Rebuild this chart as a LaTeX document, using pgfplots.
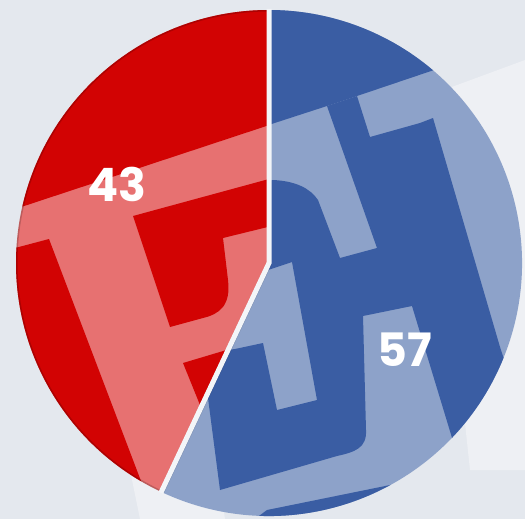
\documentclass[border=0pt]{standalone}
\usepackage{pgfplots}
\pgfplotsset{compat=1.18}
\usepackage{pgfplotstable}
\usepackage{fontspec}
\setmainfont{Poppins}
\definecolor{bgc}{HTML}{E4E8EE}
\definecolor{bgl}{HTML}{EEF0F4}
\definecolor{redD}{HTML}{D20303}
\definecolor{redL}{HTML}{E77171}
\definecolor{bluD}{HTML}{3A5DA3}
\definecolor{bluL}{HTML}{8DA2C9}
\definecolor{sep}{HTML}{F3F5F8}
\pgfplotstableread{
party share
A 43
B 57
}\piedata
\pgfplotstablegetelem{0}{share}\of\piedata \let\sa\pgfplotsretval
\pgfplotstablegetelem{1}{share}\of\piedata \let\sb\pgfplotsretval
\pgfmathsetmacro{\angB}{90+360*\sa/(\sa+\sb)}
\pgfmathsetmacro{\angE}{90+360}
\tikzset{
 redwedge/.style={insert path={(axis cs:269,263) -- ++(90:253pt) arc[start angle=90,end angle=\angB,radius=253pt] -- cycle}},
 bluewedge/.style={insert path={(axis cs:269,263) -- ++(\angB:253pt) arc[start angle=\angB,end angle=\angE,radius=253pt] -- cycle}},
}
\begin{document}
\begin{tikzpicture}
\begin{axis}[scale only axis, width=525pt, height=519pt,
  xmin=0, xmax=525, ymin=0, ymax=519, y dir=reverse, hide axis, clip=true]
\fill[bgc] (axis cs:0,0) rectangle (axis cs:525,519);
% faint watermark shapes on the background
\fill[bgl] (axis cs:430,95) -- (axis cs:525,60) -- (axis cs:525,470) -- (axis cs:470,470) -- cycle;
\fill[bgl] (axis cs:130,470) -- (axis cs:215,455) -- (axis cs:225,519) -- (axis cs:140,519) -- cycle;
% red slice
\fill[redL, redwedge];
\begin{scope}
\clip[redwedge];
\fill[redD] (axis cs:0,0) -- (axis cs:330,0) -- (axis cs:330,105) -- (axis cs:0,214) -- cycle;
\fill[redD] (axis cs:0,252) -- (axis cs:49,239) -- (axis cs:152,510) -- (axis cs:0,530) -- cycle;
\fill[redD] (axis cs:133,216) -- (axis cs:280,176) -- (axis cs:280,224) -- (axis cs:223,238) -- (axis cs:228,280) .. controls (axis cs:231,305) and (axis cs:220,314) .. (axis cs:203,318) -- (axis cs:170,327) -- cycle;
\fill[redD] (axis cs:183,363) -- (axis cs:260,340) -- (axis cs:260,420) -- (axis cs:200,405) -- cycle;
\draw[black, opacity=0.18, line width=3pt] (axis cs:269,263) ++(90:253pt) arc[start angle=90,end angle=\angB,radius=253pt];
\end{scope}
% blue slice
\fill[bluL, bluewedge];
\begin{scope}
\clip[bluewedge];
\fill[bluD] (axis cs:250,0) -- (axis cs:600,0) -- (axis cs:600,14) -- (axis cs:357,96) -- (axis cs:327,106) -- (axis cs:250,131) -- cycle;
\fill[bluD] (axis cs:327,106) -- (axis cs:357,96) -- (axis cs:370,137) -- (axis cs:420,123) -- (axis cs:433,118) -- (axis cs:500,347) -- (axis cs:560,530) -- (axis cs:480,530) -- (axis cs:412,306) -- (axis cs:363,316) -- (axis cs:366,430) .. controls (axis cs:367,448) and (axis cs:355,452) .. (axis cs:337,456) -- (axis cs:220,490) -- (axis cs:205,375) .. controls (axis cs:203,358) and (axis cs:215,352) .. (axis cs:235,349) -- (axis cs:263,343) -- (axis cs:277,410) -- (axis cs:317,400) -- (axis cs:292,262) -- (axis cs:262,272) -- (axis cs:262,182) -- (axis cs:273,180) .. controls (axis cs:295,181) and (axis cs:310,188) .. (axis cs:318,200) -- (axis cs:340,258) -- (axis cs:377,248) -- cycle;
\fill[bluD] (axis cs:240,530) -- (axis cs:267,510) -- (axis cs:400,483) -- (axis cs:400,560) -- (axis cs:240,560) -- cycle;
\draw[black, opacity=0.12, line width=6pt] (axis cs:269,263) -- ++(\angB:253pt);
\end{scope}
% separators
\draw[sep, line width=5pt] (axis cs:269,263) ++(90:254pt) -- (axis cs:269,263) -- ++(\angB:254pt);
% labels
\node[text=white, font=\fontsize{46}{46}\selectfont\bfseries] at (axis cs:117,184) {\sa};
\node[text=white, font=\fontsize{46}{46}\selectfont\bfseries] at (axis cs:405,350) {\sb};
\end{axis}
\pgfresetboundingbox
\path (current axis.south west) rectangle (current axis.north east);
\end{tikzpicture}
\end{document}
